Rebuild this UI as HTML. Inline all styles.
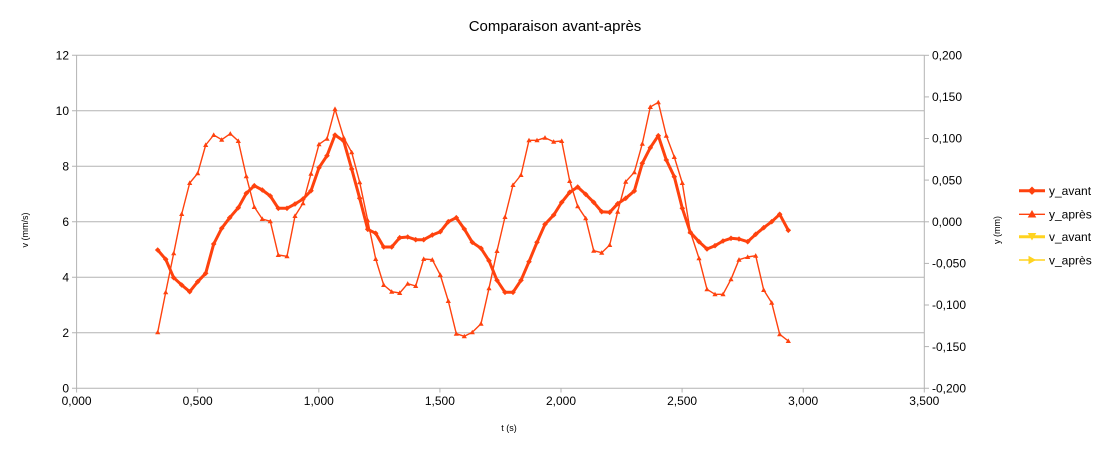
<!DOCTYPE html>
<html>
<head>
<meta charset="utf-8">
<style>
html,body{margin:0;padding:0;background:#fff;}
svg{display:block;}
text{font-family:"Liberation Sans",sans-serif;fill:#000;}
</style>
</head>
<body>
<svg width="1111" height="450" viewBox="0 0 1111 450" xmlns="http://www.w3.org/2000/svg">
<defs>
<marker id="tri" viewBox="-3 -3 6 6" markerWidth="6" markerHeight="6" refX="0" refY="0" markerUnits="userSpaceOnUse">
<polygon points="0,-2.6 2.6,2 -2.6,2" fill="#ff420e"/>
</marker>
<marker id="dia" viewBox="-3 -3 6 6" markerWidth="6" markerHeight="6" refX="0" refY="0" markerUnits="userSpaceOnUse">
<polygon points="0,-2.8 2.8,0 0,2.8 -2.8,0" fill="#ff420e"/>
</marker>
</defs>
<rect width="1111" height="450" fill="#fff"/>
<text x="555" y="31" font-size="15" text-anchor="middle">Comparaison avant-après</text>

<!-- gridlines -->
<g stroke="#b3b3b3" stroke-width="1" fill="none">
<line x1="72" y1="55.3" x2="924.3" y2="55.3"/>
<line x1="72" y1="110.8" x2="924.3" y2="110.8"/>
<line x1="72" y1="166.3" x2="924.3" y2="166.3"/>
<line x1="72" y1="221.8" x2="924.3" y2="221.8"/>
<line x1="72" y1="277.3" x2="924.3" y2="277.3"/>
<line x1="72" y1="332.8" x2="924.3" y2="332.8"/>
<line x1="72" y1="388.3" x2="929" y2="388.3"/>
<line x1="76.6" y1="55.3" x2="76.6" y2="392.5"/>
<line x1="924.3" y1="55.3" x2="924.3" y2="392.5"/>
<!-- x ticks -->
<line x1="197.7" y1="388.3" x2="197.7" y2="392.5"/>
<line x1="318.8" y1="388.3" x2="318.8" y2="392.5"/>
<line x1="439.9" y1="388.3" x2="439.9" y2="392.5"/>
<line x1="561" y1="388.3" x2="561" y2="392.5"/>
<line x1="682.1" y1="388.3" x2="682.1" y2="392.5"/>
<line x1="803.2" y1="388.3" x2="803.2" y2="392.5"/>
<!-- right ticks -->
<line x1="924.3" y1="55.3" x2="929" y2="55.3"/>
<line x1="924.3" y1="96.9" x2="929" y2="96.9"/>
<line x1="924.3" y1="138.5" x2="929" y2="138.5"/>
<line x1="924.3" y1="180.1" x2="929" y2="180.1"/>
<line x1="924.3" y1="221.8" x2="929" y2="221.8"/>
<line x1="924.3" y1="263.4" x2="929" y2="263.4"/>
<line x1="924.3" y1="305" x2="929" y2="305"/>
<line x1="924.3" y1="346.6" x2="929" y2="346.6"/>
</g>

<!-- left labels -->
<g font-size="12" text-anchor="end">
<text x="69" y="59.5">12</text>
<text x="69" y="115">10</text>
<text x="69" y="170.5">8</text>
<text x="69" y="226">6</text>
<text x="69" y="281.5">4</text>
<text x="69" y="337">2</text>
<text x="69" y="392.5">0</text>
</g>
<!-- right labels -->
<g font-size="12" text-anchor="start">
<text x="932" y="59.5">0,200</text>
<text x="932" y="101.1">0,150</text>
<text x="932" y="142.7">0,100</text>
<text x="932" y="184.3">0,050</text>
<text x="932" y="226">0,000</text>
<text x="932" y="267.6">-0,050</text>
<text x="932" y="309.2">-0,100</text>
<text x="932" y="350.8">-0,150</text>
<text x="932" y="392.5">-0,200</text>
</g>
<!-- x labels -->
<g font-size="12" text-anchor="middle">
<text x="76.6" y="405">0,000</text>
<text x="197.7" y="405">0,500</text>
<text x="318.8" y="405">1,000</text>
<text x="439.9" y="405">1,500</text>
<text x="561" y="405">2,000</text>
<text x="682.1" y="405">2,500</text>
<text x="803.2" y="405">3,000</text>
<text x="924.3" y="405">3,500</text>
</g>

<text x="509" y="431" font-size="9" text-anchor="middle">t (s)</text>
<text transform="translate(28,230) rotate(-90)" font-size="9" text-anchor="middle">v (mm/s)</text>
<text transform="translate(1000,230) rotate(-90)" font-size="9" text-anchor="middle">y (mm)</text>

<!-- y_après thin -->
<polyline fill="none" stroke="#ff420e" stroke-width="1.4" stroke-linejoin="round"
marker-start="url(#tri)" marker-mid="url(#tri)" marker-end="url(#tri)"
points="157.7,332.3 165.7,292.3 173.7,253.3 181.7,214 189.7,183 197.7,173.3 205.7,145 213.7,135 221.7,139.7 230.3,133.7 238.3,141 246.3,176.3 254.3,207 262.3,219 270.3,221.3 278.3,255 287,256.3 295,216 303,203.3 311,173.7 319,144.3 327,138.7 335,109 343.7,137.7 351.7,152.3 359.7,182.3 367.7,220.3 375.7,259 383.7,285 391.7,291.7 399.7,293 407.7,283.7 415.7,286 423.7,259 432.3,259.7 440.3,275 448.3,301 456.3,333.7 464.3,336.3 472.3,332.3 481,323.7 489,288.3 497,251 505,217 513,185 521,175 529,140.3 537,140.3 545,137.7 553.7,141.7 561.7,141 569.7,181 577.7,206.3 585.7,218.3 593.7,250.7 601.7,252.7 609.7,245 617.7,211.7 625.7,181.7 634.3,172.3 642.3,143.7 650.3,107 658.3,102.3 666.3,135.7 674.3,157 682.3,183 690.3,231.7 699,258.3 707,289.3 715,294.3 723,294.3 731,279.3 739,259.7 747.7,257 755.7,255.7 763.7,290 771.7,302.7 779.7,334.3 788.3,341"/>

<!-- y_avant thick -->
<polyline fill="none" stroke="#ff420e" stroke-width="3" stroke-linejoin="round"
marker-start="url(#dia)" marker-mid="url(#dia)" marker-end="url(#dia)"
points="157.7,250 165.7,259.3 173.7,277.7 181.7,285 189.7,291.7 197.7,281.7 205.7,273.3 213.7,244 221.7,228.3 229.7,217.7 238.3,207.7 246.3,193.3 254.3,185.7 262.3,190 270.3,196 278.3,208.3 287,208.3 295,204 303,199 311,190.7 319,167.7 327,155.7 335,135 343.7,141 351.7,169 359.7,198.3 367.7,229.3 375.7,233.3 383.7,247 391.7,247 399.7,237.7 407.7,237 415.7,239.7 423.7,239.7 432.3,235 440.3,231.7 448.3,221.7 456.3,217.7 464.3,229 472.3,242.3 481,248.3 489,260.7 497,280.3 505,292.3 513,292.3 521,280.3 529,261.7 537,242.3 545,224.3 553.7,215 561.7,202.3 569.7,192.3 577.7,187 585.7,194.3 593.7,202.3 601.7,211.7 609.7,212.3 617.7,203.7 625.7,198.3 634.3,191 642.3,163.3 650.3,147.7 658.3,135.7 666.3,160 674.3,176.7 682.3,208.3 690.3,232.3 699,241.7 707,249 715,245.7 723,241 731,238.3 739,239 747.7,241.7 755.7,234.3 763.7,227.7 771.7,221.7 779.7,214.3 788.3,230.3"/>

<!-- legend -->
<g>
<line x1="1019" y1="190.7" x2="1045" y2="190.7" stroke="#ff420e" stroke-width="3"/>
<polygon points="1032,186.5 1036.2,190.7 1032,194.9 1027.8,190.7" fill="#ff420e"/>
<text x="1049" y="195" font-size="12">y_avant</text>

<line x1="1019" y1="214.3" x2="1045" y2="214.3" stroke="#ff420e" stroke-width="1.4"/>
<polygon points="1032,210 1036.3,217.5 1027.7,217.5" fill="#ff420e"/>
<text x="1049" y="218.6" font-size="12">y_après</text>

<line x1="1019" y1="236.7" x2="1045" y2="236.7" stroke="#ffd320" stroke-width="3"/>
<polygon points="1027.7,233 1036.3,233 1032,240.5" fill="#ffd320"/>
<text x="1049" y="241" font-size="12">v_avant</text>

<line x1="1019" y1="260" x2="1045" y2="260" stroke="#ffd320" stroke-width="1.4"/>
<polygon points="1028.5,255.7 1036,260 1028.5,264.3" fill="#ffd320"/>
<text x="1049" y="264.3" font-size="12">v_après</text>
</g>
</svg>
</body>
</html>
